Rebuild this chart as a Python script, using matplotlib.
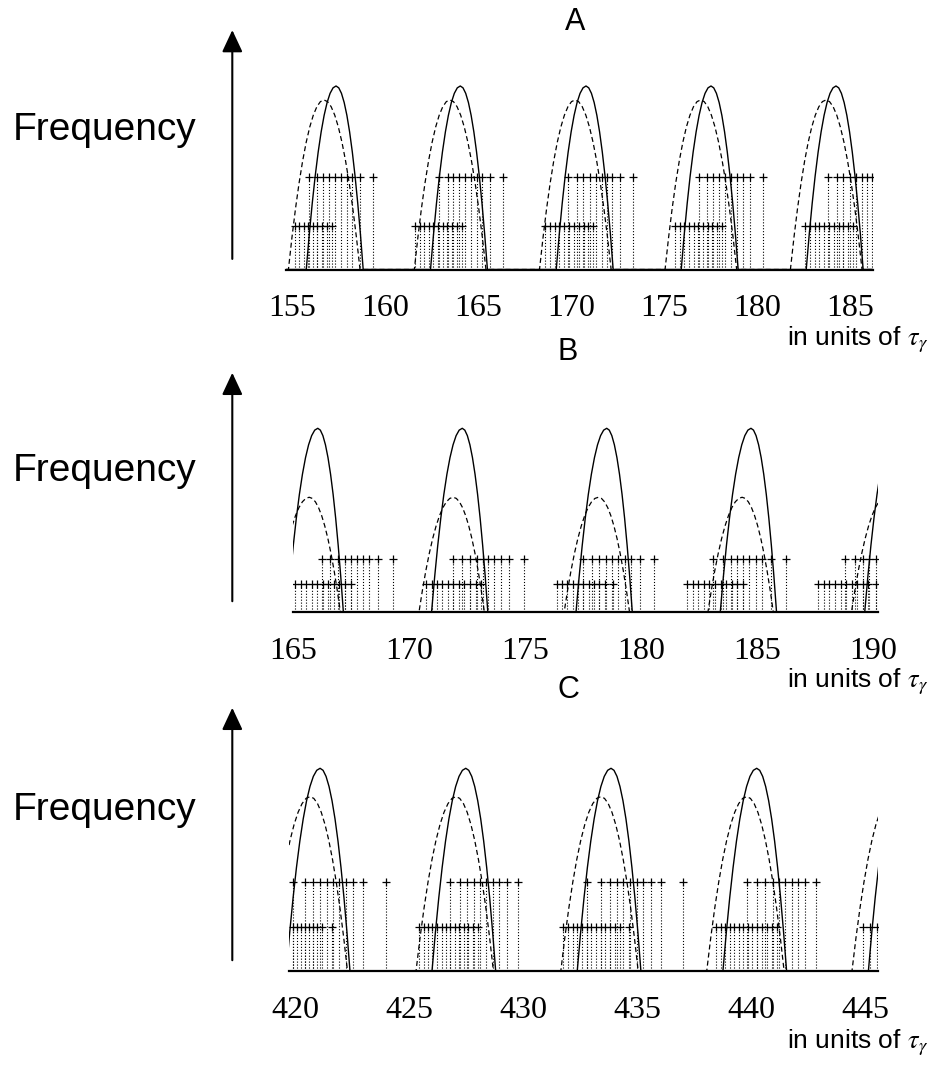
import matplotlib
matplotlib.use("Agg")
import matplotlib.pyplot as plt
from matplotlib.patches import FancyArrowPatch

plt.rcParams['font.family'] = ['Liberation Sans', 'DejaVu Sans']
plt.rcParams['mathtext.fontset'] = 'stix'

# arch shape: height fraction vs. fractional distance from the peak
ARCH_U = [0.0, 0.1, 0.2, 0.3, 0.4, 0.5, 0.6, 0.7, 0.8, 0.9, 1.0]
ARCH_H = [1.0, 0.99, 0.96, 0.91, 0.84, 0.75, 0.64, 0.51, 0.36, 0.19, 0.0]

# ---- panel A ----
A_XLIM = (154.68, 186.24)
A_TICKS = [155, 160, 165, 170, 175, 180, 185]
A_SOLID_PEAKS = [157.37, 164.05, 170.81, 177.53, 184.25]
A_SOLID_RISE, A_SOLID_FALL, A_SOLID_TOP = 1.60, 1.46, 1.0
A_DASH_PEAKS = [156.72, 163.49, 170.22, 176.97, 183.71]
A_DASH_RISE, A_DASH_FALL, A_DASH_TOP = 1.91, 1.94, 0.924
A_UPPER_Y = 0.506
A_UPPER = [155.93, 156.33, 156.65, 157.01, 157.31, 157.63, 157.94, 158.23, 158.66, 159.34,
           162.92, 163.37, 163.67, 164.00, 164.30, 164.61, 164.93, 165.23, 165.65, 166.33,
           169.84, 170.30, 170.66, 171.02, 171.34, 171.67, 171.94, 172.20, 172.63, 173.33,
           176.90, 177.29, 177.65, 177.97, 178.28, 178.58, 178.91, 179.26, 179.62, 180.31,
           183.83, 184.28, 184.64, 185.00, 185.32, 185.63, 185.93, 186.20]
A_LOWER_Y = 0.237
A_LOWER = [155.16, 155.39, 155.65, 155.88, 156.11, 156.36, 156.60, 156.87, 157.13,
           161.61, 161.88, 162.11, 162.37, 162.60, 162.87, 163.10, 163.35, 163.60, 163.85, 164.12,
           168.60, 168.86, 169.12, 169.38, 169.64, 169.90, 170.16, 170.42, 170.68, 170.94, 171.18,
           175.59, 175.84, 176.09, 176.35, 176.60, 176.85, 177.10, 177.35, 177.60, 177.86, 178.12,
           182.58, 182.84, 183.10, 183.35, 183.61, 183.87, 184.13, 184.39, 184.64, 184.90, 185.16]

# ---- panel B ----
B_XLIM = (165.0, 190.2)
B_TICKS = [165, 170, 175, 180, 185, 190]
B_SOLID_PEAKS = [166.08, 172.30, 178.52, 184.73, 190.95]
B_SOLID_RISE, B_SOLID_FALL, B_SOLID_TOP = 1.32, 1.10, 1.0
B_DASH_PEAKS = [165.71, 171.91, 178.16, 184.35, 190.53]
B_DASH_RISE, B_DASH_FALL, B_DASH_TOP = 1.47, 1.34, 0.624
B_UPPER_Y = 0.289
B_UPPER = [166.25, 166.61, 166.96, 167.25, 167.50, 167.76, 168.01, 168.30, 168.69, 169.30,
           171.89, 172.28, 172.63, 172.92, 173.18, 173.42, 173.67, 173.95, 174.32, 174.96,
           177.51, 177.87, 178.20, 178.49, 178.76, 179.02, 179.30, 179.55, 179.95, 180.55,
           183.11, 183.51, 183.85, 184.14, 184.40, 184.66, 184.93, 185.19, 185.58, 186.22,
           188.80, 189.21, 189.54, 189.82, 190.11]
B_LOWER_Y = 0.149
B_LOWER = [165.10, 165.34, 165.57, 165.82, 166.06, 166.29, 166.53, 166.78, 167.00, 167.25, 167.50,
           170.74, 170.98, 171.20, 171.44, 171.67, 171.91, 172.16, 172.39, 172.63, 172.88, 173.10,
           176.36, 176.59, 176.82, 177.05, 177.28, 177.51, 177.74, 177.97, 178.20, 178.43, 178.80,
           181.99, 182.22, 182.46, 182.71, 182.93, 183.18, 183.42, 183.65, 183.90, 184.14, 184.40,
           187.63, 187.87, 188.10, 188.35, 188.59, 188.82, 189.06, 189.30, 189.54, 189.78, 190.11]

# ---- panel C ----
C_XLIM = (419.72, 445.54)
C_TICKS = [420, 425, 430, 435, 440, 445]
C_SOLID_PEAKS = [421.07, 427.46, 433.83, 440.22, 446.60]
C_SOLID_RISE, C_SOLID_FALL, C_SOLID_TOP = 1.48, 1.31, 1.0
C_DASH_PEAKS = [420.63, 427.03, 433.38, 439.78, 446.15]
C_DASH_RISE, C_DASH_FALL, C_DASH_TOP = 1.75, 1.64, 0.86
C_UPPER_Y = 0.44
C_UPPER = [419.87, 420.41, 420.77, 421.07, 421.36, 421.62, 421.91, 422.21, 422.53, 422.97, 423.96,
           426.77, 427.21, 427.50, 427.80, 428.09, 428.35, 428.64, 428.93, 429.26, 429.77,
           432.78, 433.39, 433.79, 434.08, 434.37, 434.66, 434.96, 435.25, 435.57, 436.01, 436.97,
           439.78, 440.22, 440.58, 440.92, 441.21, 441.46, 441.76, 442.04, 442.34, 442.82]
C_LOWER_Y = 0.217
C_LOWER = [419.87, 420.04, 420.22, 420.41, 420.60, 420.77, 420.95, 421.14, 421.58,
           425.42, 425.62, 425.81, 426.00, 426.20, 426.40, 426.58, 426.79, 426.98, 427.17,
           427.37, 427.56, 427.78, 428.01,
           431.74, 431.95, 432.15, 432.35, 432.56, 432.76, 432.97, 433.17, 433.38, 433.58,
           433.79, 434.01, 434.23, 434.64,
           438.44, 438.64, 438.84, 439.05, 439.24, 439.44, 439.63, 439.83, 440.03, 440.22,
           440.44, 440.66, 440.88, 441.10,
           444.87, 445.19, 445.48]

W, H = 930, 1066


def arch_line(peaks, rise, fall, top, xlim):
    # one continuous trace: zero between the arches
    xs, ys = [xlim[0]], [0.0]
    for p in peaks:
        for u, h in zip(ARCH_U[::-1], ARCH_H[::-1]):
            xs.append(p - rise * u)
            ys.append(top * h)
        for u, h in zip(ARCH_U[1:], ARCH_H[1:]):
            xs.append(p + fall * u)
            ys.append(top * h)
    xs.append(xlim[1])
    ys.append(0.0)
    return xs, ys


panels = [
    dict(name='A', xlim=A_XLIM, ticks=A_TICKS,
         solid=(A_SOLID_PEAKS, A_SOLID_RISE, A_SOLID_FALL, A_SOLID_TOP),
         dash=(A_DASH_PEAKS, A_DASH_RISE, A_DASH_FALL, A_DASH_TOP),
         rows=[(A_UPPER, A_UPPER_Y), (A_LOWER, A_LOWER_Y)],
         box=(286, 873, 269.5, 183.5), title=(575, 22), freq=140,
         arrow=(232.3, 261.7, 27.3), units=345),
    dict(name='B', xlim=B_XLIM, ticks=B_TICKS,
         solid=(B_SOLID_PEAKS, B_SOLID_RISE, B_SOLID_FALL, B_SOLID_TOP),
         dash=(B_DASH_PEAKS, B_DASH_RISE, B_DASH_FALL, B_DASH_TOP),
         rows=[(B_UPPER, B_UPPER_Y), (B_LOWER, B_LOWER_Y)],
         box=(292.7, 878, 611.7, 183.4), title=(568, 352), freq=481,
         arrow=(232.3, 604, 370), units=687),
    dict(name='C', xlim=C_XLIM, ticks=C_TICKS,
         solid=(C_SOLID_PEAKS, C_SOLID_RISE, C_SOLID_FALL, C_SOLID_TOP),
         dash=(C_DASH_PEAKS, C_DASH_RISE, C_DASH_FALL, C_DASH_TOP),
         rows=[(C_UPPER, C_UPPER_Y), (C_LOWER, C_LOWER_Y)],
         box=(289.3, 878, 970.7, 202.4), title=(568, 690), freq=820,
         arrow=(232.3, 963, 705), units=1048),
]

fig = plt.figure(figsize=(W / 100, H / 100), dpi=100)
YTOP = 1.06

for p in panels:
    x0, x1, yb, s = p['box']
    ax = fig.add_axes([x0 / W, 1 - yb / H, (x1 - x0) / W, YTOP * s / H])
    ax.set_xlim(*p['xlim'])
    ax.set_ylim(0, YTOP)

    for times, yv in p['rows']:
        ax.vlines(times, 0, yv, colors='black', linestyles=':', lw=0.8)
        ax.plot(times, [yv] * len(times), '+', color='black', ms=6, mew=0.9)

    xs, ys = arch_line(*p['dash'], p['xlim'])
    ax.plot(xs, ys, color='black', lw=0.9, dashes=(4, 2.5))
    xs, ys = arch_line(*p['solid'], p['xlim'])
    ax.plot(xs, ys, color='black', lw=1.0)

    for side in ('top', 'left', 'right'):
        ax.spines[side].set_visible(False)
    ax.spines['bottom'].set_linewidth(1.6)
    ax.set_yticks([])
    ax.set_xticks(p['ticks'])
    ax.set_xticklabels([str(t) for t in p['ticks']], family='Liberation Serif', fontsize=23)
    ax.tick_params(axis='x', length=0, pad=18)

    tx, ty = p['title']
    fig.text(tx / W, 1 - ty / H, p['name'], ha='center', va='center', fontsize=22)
    fig.text(12.7 / W, 1 - p['freq'] / H, 'Frequency', ha='left', va='baseline', fontsize=28)
    fig.text(928 / W, 1 - p['units'] / H, r'in units of $\tau_{\gamma}$',
             ha='right', va='baseline', fontsize=19)

    axx, ybot, ytop = p['arrow']
    fig.add_artist(FancyArrowPatch(
        (axx / W, 1 - ybot / H), (axx / W, 1 - ytop / H), transform=fig.transFigure,
        arrowstyle='-|>,head_length=0.75,head_width=0.35', mutation_scale=18,
        lw=1.5, color='black'))

fig.savefig('out.png', dpi=100)
